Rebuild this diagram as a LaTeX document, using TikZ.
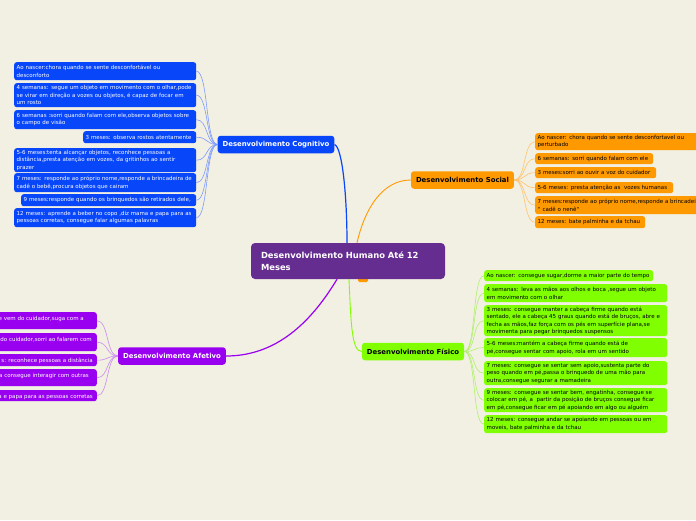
\documentclass[tikz,border=0pt]{standalone}
\usepackage{fontspec}
\setmainfont{DejaVu Sans}
\definecolor{bgcream}{RGB}{242,239,227}
\definecolor{rootpurple}{RGB}{102,45,145}
\definecolor{cogblue}{RGB}{8,70,250}
\definecolor{cogline}{RGB}{125,155,255}
\definecolor{socorange}{RGB}{255,153,0}
\definecolor{socline}{RGB}{255,196,110}
\definecolor{fisgreen}{RGB}{128,255,0}
\definecolor{fisline}{RGB}{176,240,110}
\definecolor{afepurple}{RGB}{153,0,240}
\definecolor{afeline}{RGB}{200,140,240}
\newcommand{\leaffont}{\fontsize{5.5}{7.5}\selectfont}
\newcommand{\branchfont}{\fontsize{6.9}{8}\selectfont\bfseries}
\newcommand{\rootfont}{\fontsize{8.4}{11.5}\selectfont\bfseries}

\begin{document}
\begin{tikzpicture}[x=1pt,y=-1pt,
	leaf/.style={rounded corners=2.5pt,inner xsep=2.5pt,inner ysep=1pt,align=left,font=\leaffont,anchor=north west},
	cogleaf/.style={leaf,fill=cogblue,text=white},
	socleaf/.style={leaf,fill=socorange,text=black},
	fisleaf/.style={leaf,fill=fisgreen,text=black},
	afeleaf/.style={leaf,fill=afepurple,anchor=north east},
	afetext/.style={font=\leaffont,text=white,inner sep=0pt,anchor=base east},
	rootbox/.style={fill=rootpurple,text=white,rounded corners=4pt,inner xsep=10pt,text width=174pt,minimum height=36pt,align=left,font=\rootfont},
	branch/.style={rounded corners=3pt,inner xsep=5pt,minimum height=17.5pt,font=\branchfont},
	coglink/.style={draw=cogline,line width=0.6pt},
	soclink/.style={draw=socline,line width=0.6pt},
	fislink/.style={draw=fisline,line width=0.6pt},
	afelink/.style={draw=afeline,line width=0.6pt}]
					\fill[bgcream] (0,0) rectangle (696,520);
					\useasboundingbox (0,0) rectangle (696,520);
					\clip (0,0) rectangle (696,520);
					
					%ROOT
					\fill[socorange,rounded corners=1.5pt] (358,272) rectangle (368,282);
					\node[rootbox] (root) at (348,261) {Desenvolvimento Humano Até 12\\Meses};
					
					%BRANCHES
					\node[branch,fill=cogblue,text=white] (cog) at (276,144.5) {Desenvolvimento Cognitivo};
					\node[branch,fill=socorange] (soc) at (462.5,180) {Desenvolvimento Social};
					\node[branch,fill=fisgreen] (fis) at (413,351.5) {Desenvolvimento Físico};
					\node[branch,fill=afepurple,text=white] (afe) at (172,356) {Desenvolvimento Afetivo};
					
					\draw[cogblue,line width=1.2pt] (cog.east) .. controls +(8,3) and +(0,-45) .. ([xshift=-1pt]root.north);
					\draw[socorange,line width=0.9pt] ([xshift=9pt]root.north) .. controls +(8,-35) and +(-28,0) .. (soc.west);
					\draw[fisgreen,line width=0.9pt] ([xshift=1pt]root.south) .. controls +(2,45) and +(-10,0) .. (fis.west);
					\draw[afepurple,line width=1.2pt] ([xshift=-11pt]root.south) .. controls +(-30,50) and +(45,0) .. (afe.east);
					
					%COGNITIVO
					\node[cogleaf,text width=177pt,minimum height=18pt] (c1) at (14,62) {Ao nascer:chora quando se sente desconfortável ou\\desconforto};
					\node[cogleaf,text width=177pt,minimum height=24pt] (c2) at (14,83) {4 semanas: segue um objeto em movimento com o olhar,pode\\se virar em direção a vozes ou objetos, é capaz de focar em\\um rosto};
					\node[cogleaf,text width=177pt,minimum height=19pt] (c3) at (14,110) {6 semanas :sorri quando falam com ele,observa objetos sobre\\o campo de visão};
					\node[cogleaf,text width=108pt,minimum height=12pt] (c4) at (83,131) {3 meses: observa rostos atentamente};
					\node[cogleaf,text width=177pt,minimum height=24pt] (c5) at (14,148) {5-6 meses:tenta alcançar objetos, reconhece pessoas a\\distância,presta atenção em vozes, da gritinhos ao sentir\\prazer};
					\node[cogleaf,text width=177pt,minimum height=19pt] (c6) at (14,173) {7 meses: responde ao próprio nome,responde a brincadeira de\\cadê o bebê,procura objetos que cairam};
					\node[cogleaf,text width=170pt,minimum height=12pt] (c7) at (21,194) {9 meses:responde quando os brinquedos são retirados dele,};
					\node[cogleaf,text width=177pt,minimum height=19pt] (c8) at (14,208) {12 meses: aprende a beber no copo ,diz mama e papa para as\\pessoas corretas, consegue falar algumas palavras};
					\foreach \i in {1,...,8}
						\draw[coglink] (c\i.east) .. controls +(12,0) and +(-12,0) .. (cog.west);
					
					%SOCIAL
					\node[socleaf,text width=170pt,minimum height=17pt] (s1) at (535,133) {Ao nascer: chora quando se sente desconfortavel ou\\perturbado};
					\node[socleaf,text width=113pt,minimum height=11pt] (s2) at (535,153) {6 semanas: sorri quando falam com ele};
					\node[socleaf,text width=116pt,minimum height=11pt] (s3) at (535,167) {3 meses:sorri ao ouvir a voz do cuidador};
					\node[socleaf,text width=133pt,minimum height=11pt] (s4) at (535,182) {5-6 meses: presta atenção as\ \ vozes humanas};
					\node[socleaf,text width=190pt,minimum height=18pt] (s5) at (535,196) {7 meses:responde ao próprio nome,responde a brincadeira\\\textquotesingle\textquotesingle{} cadê o nenê\textquotesingle\textquotesingle};
					\node[socleaf,text width=105pt,minimum height=12pt] (s6) at (535,216) {12 meses: bate palminha e da tchau};
					\foreach \i in {1,...,6}
						\draw[soclink] (soc.east) .. controls +(12,0) and +(-12,0) .. (s\i.west);
					
					%FISICO
					\node[fisleaf,text width=164pt,minimum height=11pt] (f1) at (484,270) {Ao nascer: consegue sugar,dorme a maior parte do tempo};
					\node[fisleaf,text width=178pt,minimum height=18pt] (f2) at (484,284) {4 semanas: leva as mãos aos olhos e boca ,segue um objeto\\em movimento com o olhar};
					\node[fisleaf,text width=178pt,minimum height=31pt] (f3) at (484,305) {3 meses: consegue manter a cabeça firme quando está\\sentado, ele a cabeça 45 graus quando está de bruços, abre e\\fecha as mãos,faz força com os pés em superfície plana,se\\movimenta para pegar brinquedos suspensos};
					\node[fisleaf,text width=178pt,minimum height=19pt] (f4) at (484,338) {5-6 meses:mantém a cabeça firme quando está de\\pé,consegue sentar com apoio, rola em um sentido};
					\node[fisleaf,text width=178pt,minimum height=24pt] (f5) at (484,361) {7 meses: consegue se sentar sem apoio,sustenta parte do\\peso quando em pé,passa o brinquedo de uma mão para\\outra,consegue segurar a mamadeira};
					\node[fisleaf,text width=178pt,minimum height=24pt] (f6) at (484,388) {9 meses: consegue se sentar bem, engatinha, consegue se\\colocar em pé, a\ \ partir da posição de bruços consegue ficar\\em pé,consegue ficar em pé apoiando em algo ou alguém};
					\node[fisleaf,text width=178pt,minimum height=18pt] (f7) at (484,415) {12 meses: consegue andar se apoiando em pessoas ou em\\moveis, bate palminha e da tchau};
					\foreach \i in {1,...,7}
						\draw[fislink] (fis.east) .. controls +(12,0) and +(-12,0) .. (f\i.west);
					
					%AFETIVO
					\node[afeleaf,minimum width=140pt,minimum height=17pt] (a1) at (97,312) {};
					\node[afeleaf,minimum width=140pt,minimum height=18pt] (a2) at (97,333) {};
					\node[afeleaf,minimum width=140pt,minimum height=12pt] (a3) at (97,354) {};
					\node[afeleaf,minimum width=140pt,minimum height=17pt] (a4) at (97,369) {};
					\node[afeleaf,minimum width=140pt,minimum height=11pt] (a5) at (97,390) {};
					\node[afetext] (a1t) at (84,320) {e vem do cuidador,suga com a};
					\node[afetext] (a2t) at (92,341) {do cuidador,sorri ao falarem com};
					\node[afetext] (a3t) at (93,362) {s: reconhece pessoas a distância};
					\node[afetext] (a4t) at (89,377) {a consegue interagir com outras};
					\node[afetext] (a5t) at (93,398) {a e papa para as pessoas corretas};
					\foreach \i in {1,...,5}
						\draw[afelink] (afe.west) .. controls +(-12,0) and +(12,0) .. (a\i.east);
					
				  \end{tikzpicture}
\end{document}
